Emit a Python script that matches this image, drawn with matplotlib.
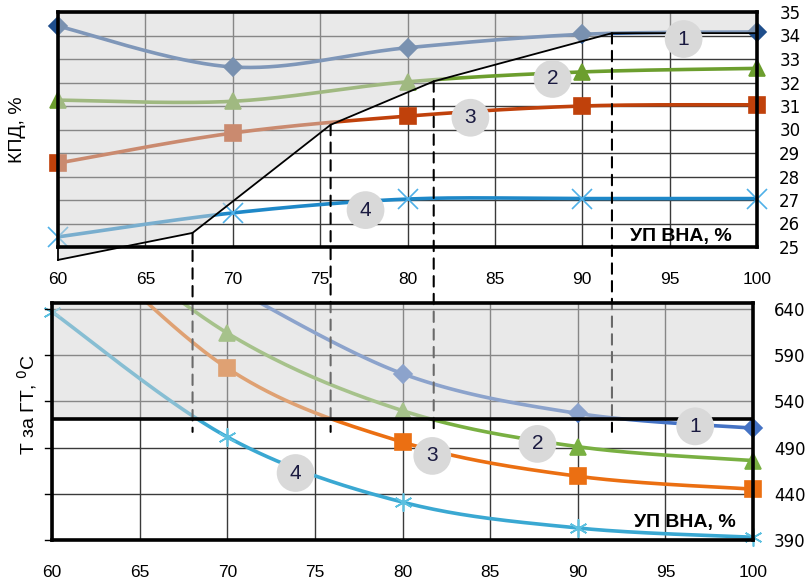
import numpy as np
import matplotlib
matplotlib.use("Agg")
import matplotlib.pyplot as plt
from matplotlib.patches import Polygon, Rectangle, ConnectionPatch
from matplotlib.transforms import blended_transform_factory

plt.rcParams['font.family'] = ['Liberation Sans', 'DejaVu Sans']

# ---------------- data ----------------
x_vals = [60, 70, 80, 90, 100]
x_ticks = [60, 65, 70, 75, 80, 85, 90, 95, 100]

# top panel: efficiency (КПД, %)
eff_1 = [34.4, 32.66, 33.48, 34.05, 34.15]
eff_2 = [31.25, 31.2, 32.03, 32.45, 32.6]
eff_3 = [28.57, 29.85, 30.57, 31.0, 31.05]
eff_4 = [25.43, 26.45, 27.04, 27.06, 27.06]
eff_ticks = list(range(25, 36))

# top panel: boundary of the restricted zone
bound_x = [60, 67.7, 75.6, 81.5, 91.7, 100]
bound_y = [24.45, 25.6, 30.2, 32.05, 34.1, 34.1]

# bottom panel: temperature behind GT
temp_x1 = [70, 80, 90, 100]
temp_1 = [666, 570, 527, 511]
temp_2 = [760, 614, 530, 491, 476]
temp_3 = [745, 576, 496, 459, 445]
temp_4 = [637, 501.5, 431, 403, 393]
temp_ticks = [390, 440, 490, 540, 590, 640]
temp_limit = 521

# dashed projection lines (x, lower end in bottom panel)
dash_x = [67.7, 75.6, 81.5, 91.7]
dash_low = 507

curve_labels = ['1', '2', '3', '4']
top_label_pos = [(95.8, 33.85), (88.3, 32.15), (83.6, 30.5), (77.6, 26.57)]
bot_label_pos = [(96.7, 513), (87.7, 494), (81.7, 481), (73.9, 462.5)]


def smooth(xs, ys, n=40):
    """Excel-like smoothed line (Catmull-Rom Bezier)."""
    pts = np.column_stack([xs, ys]).astype(float)
    P = np.vstack([pts[0], pts, pts[-1]])
    t = np.linspace(0, 1, n)[:, None]
    out = []
    for i in range(1, len(P) - 2):
        p0, p1, p2, p3 = P[i - 1], P[i], P[i + 1], P[i + 2]
        b1 = p1 + (p2 - p0) / 6
        b2 = p2 - (p3 - p1) / 6
        seg = ((1 - t) ** 3) * p1 + 3 * ((1 - t) ** 2) * t * b1 \
            + 3 * (1 - t) * (t ** 2) * b2 + (t ** 3) * p2
        out.append(seg if i == 1 else seg[1:])
    arr = np.vstack(out)
    return arr[:, 0], arr[:, 1]


W, H = 808, 584
fig = plt.figure(figsize=(W / 100, H / 100), dpi=100)
ax1 = fig.add_axes([58 / W, 1 - 247 / H, 699 / W, 235 / H])
ax2 = fig.add_axes([52 / W, 1 - 540 / H, 701 / W, 237 / H])

OVER_C = '#d4d4d4'
OVER_A = 0.5
GRID_C = '#3a3a3a'

# ---------------- top panel ----------------
ax1.set_xlim(60, 100)
ax1.set_ylim(25, 35)
ax1.set_xticks(x_ticks)
ax1.set_yticks(eff_ticks)
ax1.grid(True, color=GRID_C, lw=1.0, zorder=0.5)
ax1.set_axisbelow(True)

top_series = [
    (eff_1, '#2a5a9e', 'D', 9, '#1f4e8c'),
    (eff_2, '#6c9e2e', '^', 11, '#6c9e2e'),
    (eff_3, '#c0410b', 's', 12, '#c0410b'),
    (eff_4, '#1e88c8', 'x', 14, '#4fb0e8'),
]
for ys, col, mk, ms, mcol in top_series:
    sx, sy = smooth(x_vals, ys)
    ax1.plot(sx, sy, color=col, lw=2.6, zorder=2, solid_capstyle='round')
    ax1.plot(x_vals, ys, ls='none', marker=mk, ms=ms, color=mcol,
             mec=mcol, mew=1.2, zorder=2.2, clip_on=False)

poly_pts = list(zip(bound_x, bound_y)) + [(100, 35), (60, 35)]
ax1.add_patch(Polygon(poly_pts, closed=True, fc=OVER_C, ec='none',
                      alpha=OVER_A, zorder=3, clip_on=False))
ax1.plot(bound_x, bound_y, color='black', lw=1.3, zorder=4, clip_on=False)
ax1.plot([60, 60], [bound_y[0], 25], color='black', lw=1.3, zorder=4,
         clip_on=False)

ax1.yaxis.tick_right()
ax1.tick_params(axis='y', which='both', length=0, pad=16, labelsize=12)
ax1.tick_params(axis='x', which='both', length=0, pad=18, labelsize=12.5)
for lbl in ax1.get_yticklabels():
    lbl.set_fontfamily('DejaVu Sans')
for s in ax1.spines.values():
    s.set_linewidth(2.6)
    s.set_color('black')
    s.set_zorder(5)

ax1.text((681 - 58) / 699, (247 - 237) / 235, 'УП ВНА, %',
         transform=ax1.transAxes, ha='center', va='center', fontsize=14,
         fontweight='bold', zorder=6)

for lab, (lx, ly) in zip(curve_labels, top_label_pos):
    ax1.text(lx, ly, lab, ha='center', va='center', fontsize=15,
             color='#1a1a40', zorder=6,
             bbox=dict(boxstyle='circle,pad=0.45', fc='#d9d9d9', ec='none'))

# ---------------- bottom panel ----------------
ax2.set_xlim(60, 100)
ax2.set_ylim(390, 646.5)
ax2.set_xticks(x_ticks)
ax2.set_yticks(temp_ticks)
ax2.grid(True, color=GRID_C, lw=1.0, zorder=0.5)
ax2.set_axisbelow(True)

bot_series = [
    (temp_x1, temp_1, '#4472c4', 'D', 9, '#4472c4'),
    (x_vals, temp_2, '#79b042', '^', 11, '#79b042'),
    (x_vals, temp_3, '#eb6f12', 's', 12, '#eb6f12'),
    (x_vals, temp_4, '#3aa8d2', (6, 2, 0), 13, '#5cc0e0'),
]
for xs, ys, col, mk, ms, mcol in bot_series:
    sx, sy = smooth(xs, ys)
    ax2.plot(sx, sy, color=col, lw=2.6, zorder=2, solid_capstyle='round')
    vis = [(a, b) for a, b in zip(xs, ys) if b <= 646.5]
    ax2.plot([v[0] for v in vis], [v[1] for v in vis], ls='none', marker=mk,
             ms=ms, color=mcol, mec=mcol, mew=1.2, zorder=2.2, clip_on=False)

ax2.add_patch(Rectangle((60, temp_limit), 40, 646.5 - temp_limit,
                        fc=OVER_C, ec='none', alpha=OVER_A, zorder=3))
ax2.axhline(temp_limit, color='black', lw=2.6, zorder=4)

ax2.yaxis.tick_right()
ax2.tick_params(axis='y', which='both', length=0, pad=15, labelsize=12)
ax2.tick_params(axis='x', which='both', length=0, pad=18, labelsize=12.5)
for lbl in ax2.get_yticklabels():
    lbl.set_fontfamily('DejaVu Sans')
for yt in temp_ticks:
    ax2.plot([59.6, 60], [yt, yt], color='black', lw=1, clip_on=False,
             zorder=5)
for s in ax2.spines.values():
    s.set_linewidth(2.6)
    s.set_color('black')
    s.set_zorder(5)

ax2.text((685 - 52) / 701, (540 - 522) / 237, 'УП ВНА, %',
         transform=ax2.transAxes, ha='center', va='center', fontsize=14,
         fontweight='bold', zorder=6)

for lab, (lx, ly) in zip(curve_labels, bot_label_pos):
    ax2.text(lx, ly, lab, ha='center', va='center', fontsize=15,
             color='#1a1a40', zorder=6,
             bbox=dict(boxstyle='circle,pad=0.45', fc='#d9d9d9', ec='none'))

# dashed projection lines crossing both panels
blend = blended_transform_factory(ax1.transData, ax2.transData)
for dx in dash_x:
    ky = float(np.interp(dx, bound_x, bound_y))
    con = ConnectionPatch(xyA=(dx, ky), coordsA=ax1.transData,
                          xyB=(dx, dash_low), coordsB=blend,
                          color='black', lw=1.5, linestyle=(0, (5, 3.5)),
                          zorder=2.5, clip_on=False)
    ax2.add_artist(con)

fig.text(17 / W, 1 - 130 / H, 'КПД, %', rotation=90, ha='center',
         va='center', fontsize=14)
fig.text(27 / W, 1 - 405 / H, 'Т за ГТ, $^0$С', rotation=90, ha='center',
         va='center', fontsize=14)

fig.savefig('out.png', dpi=100)
